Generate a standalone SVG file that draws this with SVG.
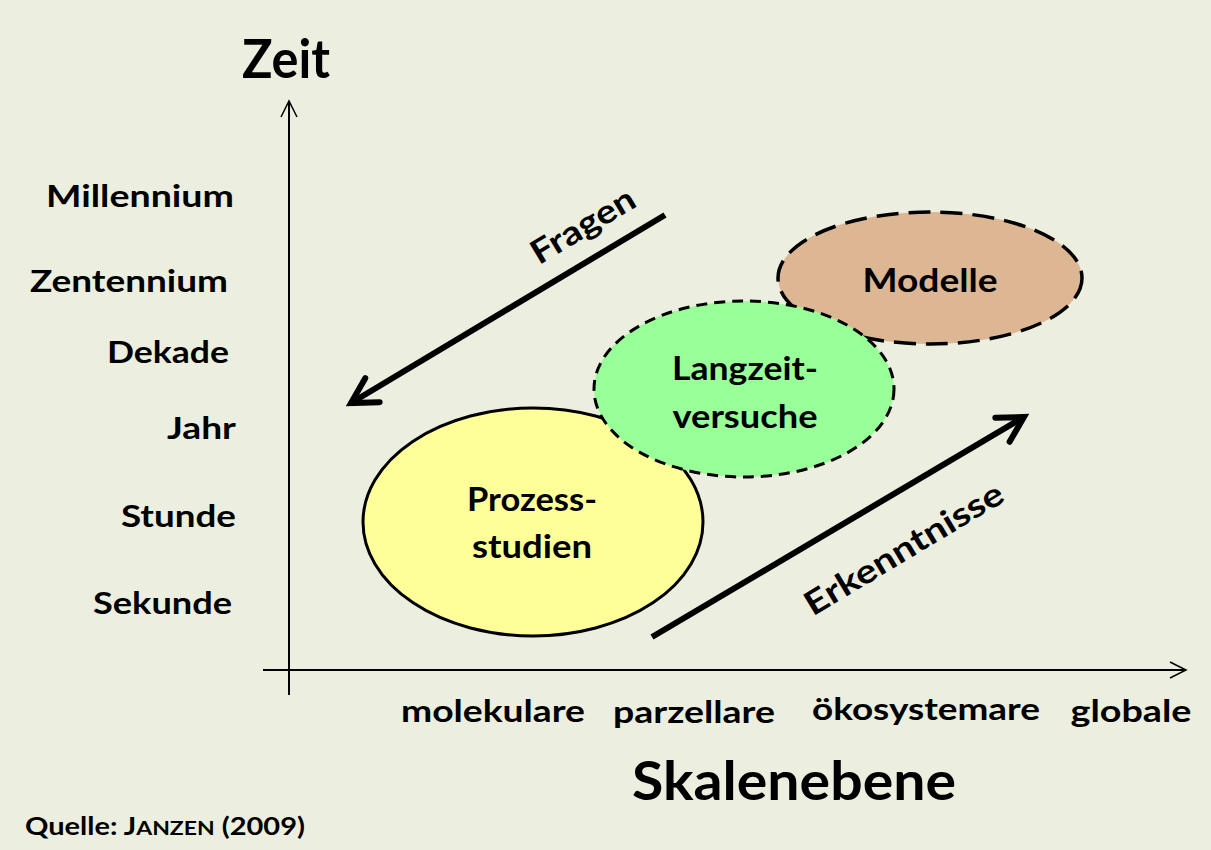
<svg xmlns="http://www.w3.org/2000/svg" width="1211" height="850" viewBox="0 0 1211 850">
<defs>
<style>
text{font-family:Lato,"Open Sans","Liberation Sans",sans-serif;font-weight:bold;fill:#000}
.ylab{font-size:31px;text-anchor:end}
.xlab{font-size:30px;text-anchor:middle}
.title{font-size:53px}
.node{font-size:33px;text-anchor:middle}
.rot{font-size:33px;text-anchor:middle}
.axis{stroke:#000;stroke-width:2;fill:none}
.big{stroke:#000;stroke-width:6;fill:none;stroke-linecap:butt}
</style>
<marker id="open" markerUnits="userSpaceOnUse" markerWidth="40" markerHeight="40" refX="30" refY="20" orient="auto" viewBox="0 0 40 40">
<path d="M5,6 L30,20 L5,34" fill="none" stroke="#000" stroke-width="6" stroke-linecap="round" stroke-linejoin="miter"/>
</marker>
<marker id="thin" markerUnits="userSpaceOnUse" markerWidth="30" markerHeight="30" refX="20" refY="15" orient="auto" viewBox="0 0 30 30">
<path d="M4,7 L20,15 L4,23" fill="none" stroke="#000" stroke-width="1.5"/>
</marker>
</defs>
<rect x="0" y="0" width="1211" height="850" fill="#ECEFDF"/>

<g id="axes">
<line class="axis" x1="289" y1="695" x2="289" y2="101" marker-end="url(#thin)"/>
<line class="axis" x1="263" y1="670" x2="1186" y2="670" marker-end="url(#thin)"/>
</g>

<g id="labels">
<text x="242" y="78" class="title" textLength="88" lengthAdjust="spacingAndGlyphs">Zeit</text>
<text x="234" y="207" class="ylab" textLength="188" lengthAdjust="spacingAndGlyphs">Millennium</text>
<text x="228" y="292" class="ylab" textLength="198" lengthAdjust="spacingAndGlyphs">Zentennium</text>
<text x="229" y="363" class="ylab" textLength="122" lengthAdjust="spacingAndGlyphs">Dekade</text>
<text x="236" y="439" class="ylab" textLength="69" lengthAdjust="spacingAndGlyphs">Jahr</text>
<text x="236" y="527" class="ylab" textLength="115" lengthAdjust="spacingAndGlyphs">Stunde</text>
<text x="232" y="614" class="ylab" textLength="139" lengthAdjust="spacingAndGlyphs">Sekunde</text>
<text x="493" y="722" class="xlab" textLength="184" lengthAdjust="spacingAndGlyphs">molekulare</text>
<text x="694" y="723" class="xlab" textLength="162" lengthAdjust="spacingAndGlyphs">parzellare</text>
<text x="926" y="720" class="xlab" textLength="228" lengthAdjust="spacingAndGlyphs">ökosystemare</text>
<text x="1131" y="722" class="xlab" textLength="121" lengthAdjust="spacingAndGlyphs">globale</text>
<text x="794" y="800" class="title" text-anchor="middle" textLength="324" lengthAdjust="spacingAndGlyphs">Skalenebene</text>
<text x="25" y="835" style="font-size:24px" textLength="280" lengthAdjust="spacingAndGlyphs">Quelle: J<tspan style="font-size:19px">ANZEN</tspan> (2009)</text>
</g>

<g id="node-modelle">
<ellipse cx="930" cy="278" rx="152" ry="66" fill="#DDB794" stroke="#000" stroke-width="3.5" stroke-dasharray="22 10"/>
<text x="930" y="292" class="node" textLength="135" lengthAdjust="spacingAndGlyphs">Modelle</text>
</g>

<g id="node-prozess">
<ellipse cx="533" cy="522" rx="170" ry="114" fill="#FFFF99" stroke="#000" stroke-width="3"/>
<text x="532" y="511" class="node" textLength="130" lengthAdjust="spacingAndGlyphs">Prozess-</text>
<text x="532" y="558" class="node" textLength="120" lengthAdjust="spacingAndGlyphs">studien</text>
</g>

<g id="node-langzeit">
<ellipse cx="744" cy="389" rx="150" ry="88" fill="#99FF99" stroke="#000" stroke-width="3" stroke-dasharray="11 7"/>
<text x="745" y="380" class="node" textLength="146" lengthAdjust="spacingAndGlyphs">Langzeit-</text>
<text x="745" y="428" class="node" textLength="145" lengthAdjust="spacingAndGlyphs">versuche</text>
</g>

<g id="connectors">
<line class="big" x1="665" y1="215" x2="351" y2="403" marker-end="url(#open)"/>
<line class="big" x1="652" y1="637" x2="1024" y2="417" marker-end="url(#open)"/>
<text transform="translate(583,226) rotate(-31)" x="0" y="11" class="rot" textLength="116" lengthAdjust="spacingAndGlyphs">Fragen</text>
<text transform="translate(904,549) rotate(-31)" x="0" y="11" class="rot" textLength="226" lengthAdjust="spacingAndGlyphs">Erkenntnisse</text>
</g>
</svg>
